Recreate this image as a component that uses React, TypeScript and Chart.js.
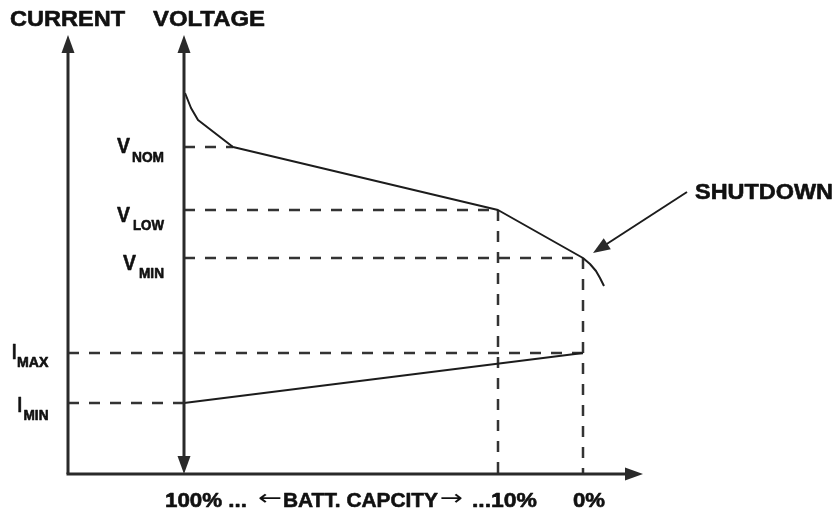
import React, { useEffect, useRef } from "react";
import { Chart, registerables } from "chart.js";

Chart.register(...registerables);

// Diagram coordinates: x = horizontal position, y = height above the capacity axis
const capacityTicks = ["100%", "10%", "0%"];
const capacityX = [184, 498, 583];
const currentAxisX = 68;
const axisTop = 439;
const axisRight = 643;

const levelNames = ["V_NOM", "V_LOW", "V_MIN", "I_MAX", "I_MIN"];
const levelValues = [327, 264, 216, 121, 71];

const voltageCurveX = [185, 191, 198, 233, 498, 583, 590, 596, 600, 604];
const voltageCurveY = [381, 366, 354, 327, 264, 216, 210, 203, 196, 188];

const currentLineX = [184, 583];
const currentLineY = [71, 121];

const shutdownArrowX = [687, 593];
const shutdownArrowY = [282, 221];

const pts = (xs: number[], ys: number[]) => xs.map((x, i) => ({ x, y: ys[i] }));

const INK = "#1c1c1c";
const AXIS = "#2a2a2a";
const DASH = "#333333";

function fitText(
  ctx: CanvasRenderingContext2D,
  text: string,
  left: number,
  base: number,
  width: number,
  size: number,
  family = '"Liberation Sans", Arial, sans-serif',
  weight = "bold",
  stroke = 0.6
) {
  ctx.font = `${weight} ${size}px ${family}`;
  const w = ctx.measureText(text).width;
  ctx.save();
  ctx.translate(left, base);
  ctx.scale(width / w, 1);
  ctx.textAlign = "left";
  ctx.textBaseline = "alphabetic";
  ctx.fillStyle = "#111";
  ctx.fillText(text, 0, 0);
  if (stroke > 0) {
    ctx.lineWidth = stroke;
    ctx.strokeStyle = "#111";
    ctx.lineJoin = "round";
    ctx.strokeText(text, 0, 0);
  }
  ctx.restore();
}

function arrowHead(ctx: CanvasRenderingContext2D, tipX: number, tipY: number, fromX: number, fromY: number, len: number, half: number) {
  const a = Math.atan2(tipY - fromY, tipX - fromX);
  const bx = tipX - Math.cos(a) * len;
  const by = tipY - Math.sin(a) * len;
  const nx = -Math.sin(a) * half;
  const ny = Math.cos(a) * half;
  ctx.beginPath();
  ctx.moveTo(tipX, tipY);
  ctx.lineTo(bx + nx, by + ny);
  ctx.lineTo(bx - nx, by - ny);
  ctx.closePath();
  ctx.fillStyle = AXIS;
  ctx.fill();
}

const decorPlugin = {
  id: "decor",
  afterDatasetsDraw(chart: any) {
    const ctx: CanvasRenderingContext2D = chart.ctx;
    const xs = chart.scales.x;
    const ys = chart.scales.y;
    const px = (v: number) => xs.getPixelForValue(v);
    const py = (v: number) => ys.getPixelForValue(v);
    ctx.save();
    // arrowheads
    arrowHead(ctx, px(currentAxisX), py(axisTop), px(currentAxisX), py(0), 18, 6.5);
    arrowHead(ctx, px(capacityX[0]), py(axisTop), px(capacityX[0]), py(0), 18, 6.5);
    arrowHead(ctx, px(capacityX[0]), py(0), px(capacityX[0]), py(axisTop), 18, 6.5);
    arrowHead(ctx, px(axisRight), py(0), px(currentAxisX), py(0), 18, 6.5);
    arrowHead(ctx, px(shutdownArrowX[1]), py(shutdownArrowY[1]), px(shutdownArrowX[0]), py(shutdownArrowY[0]), 17, 6.5);

    // titles
    fitText(ctx, "CURRENT", 10, 26, 115, 22);
    fitText(ctx, "VOLTAGE", 153, 26, 112, 22);
    fitText(ctx, "SHUTDOWN", 695, 199, 138, 22);

    // level labels
    fitText(ctx, "V", 117, 153, 13, 22);
    fitText(ctx, "NOM", 132, 162, 32, 14);
    fitText(ctx, "V", 117, 222, 13, 22);
    fitText(ctx, "LOW", 133, 230, 31, 14);
    fitText(ctx, "V", 123, 270, 13, 22);
    fitText(ctx, "MIN", 139, 278, 25, 14);
    fitText(ctx, "I", 12, 359, 4.5, 22);
    fitText(ctx, "MAX", 17, 367, 31.5, 14);
    fitText(ctx, "I", 17.5, 412, 4.5, 22);
    fitText(ctx, "MIN", 23.5, 420, 25, 14);

    // capacity labels
    fitText(ctx, `${capacityTicks[0]} ...`, 165, 507, 82, 21);
    fitText(ctx, "\u2190", 258, 505, 24, 21, '"DejaVu Sans", sans-serif', "normal", 0);
    fitText(ctx, "BATT. CAPCITY", 283, 507, 155, 21);
    fitText(ctx, "\u2192", 440, 505, 23, 21, '"DejaVu Sans", sans-serif', "normal", 0);
    fitText(ctx, `...${capacityTicks[1]}`, 472, 507, 65, 21);
    fitText(ctx, capacityTicks[2], 573, 507, 32, 21);
    ctx.restore();
  },
};

export default function App() {
  const ref = useRef<HTMLCanvasElement | null>(null);
  useEffect(() => {
    document.body.style.margin = "0";
    if (!ref.current) return;
    const line = (data: any[], color: string, width: number, dash: number[] = []) => ({
      data,
      showLine: true,
      borderColor: color,
      borderWidth: width,
      borderDash: dash,
      pointRadius: 0,
      fill: false,
      tension: 0,
      clip: false as any,
      borderCapStyle: "butt",
      borderJoinStyle: "round",
    });
    const dash = [11, 10];
    const [vNom, vLow, vMin, iMax, iMin] = levelValues;
    const chart = new Chart(ref.current, {
      type: "scatter",
      data: {
        datasets: [
          line([{ x: currentAxisX, y: 0 }, { x: currentAxisX, y: axisTop - 10 }], AXIS, 3),
          line([{ x: capacityX[0], y: 10 }, { x: capacityX[0], y: axisTop - 10 }], AXIS, 3),
          line([{ x: currentAxisX - 1.5, y: 0 }, { x: axisRight - 10, y: 0 }], AXIS, 3),
          line(pts(voltageCurveX, voltageCurveY), INK, 2),
          line(pts(currentLineX, currentLineY), INK, 2),
          line([{ x: shutdownArrowX[0], y: shutdownArrowY[0] }, { x: shutdownArrowX[1] + 6, y: shutdownArrowY[1] + 4 }], INK, 2),
          line([{ x: capacityX[0], y: vNom }, { x: 233, y: vNom }], DASH, 2.5, dash),
          line([{ x: capacityX[0], y: vLow }, { x: capacityX[1], y: vLow }], DASH, 2.5, dash),
          line([{ x: capacityX[0], y: vMin }, { x: capacityX[2], y: vMin }], DASH, 2.5, dash),
          line([{ x: currentAxisX, y: iMax }, { x: capacityX[2], y: iMax }], DASH, 2.5, dash),
          line([{ x: currentAxisX, y: iMin }, { x: capacityX[0], y: iMin }], DASH, 2.5, dash),
          line([{ x: capacityX[1], y: vLow }, { x: capacityX[1], y: 0 }], DASH, 2.5, dash),
          line([{ x: capacityX[2], y: vMin }, { x: capacityX[2], y: 0 }], DASH, 2.5, dash),
        ] as any,
      },
      options: {
        animation: false,
        responsive: false,
        layout: { padding: 0 },
        scales: {
          x: { type: "linear", min: 0, max: 837, display: false },
          y: { type: "linear", min: -40, max: 474, display: false },
        },
        plugins: { legend: { display: false }, tooltip: { enabled: false } },
        events: [],
      },
      plugins: [decorPlugin],
    });
    return () => chart.destroy();
  }, []);
  return (
    <div style={{ width: 837, height: 514, background: "#fff" }}>
      <canvas ref={ref} width={837} height={514} />
    </div>
  );
}
